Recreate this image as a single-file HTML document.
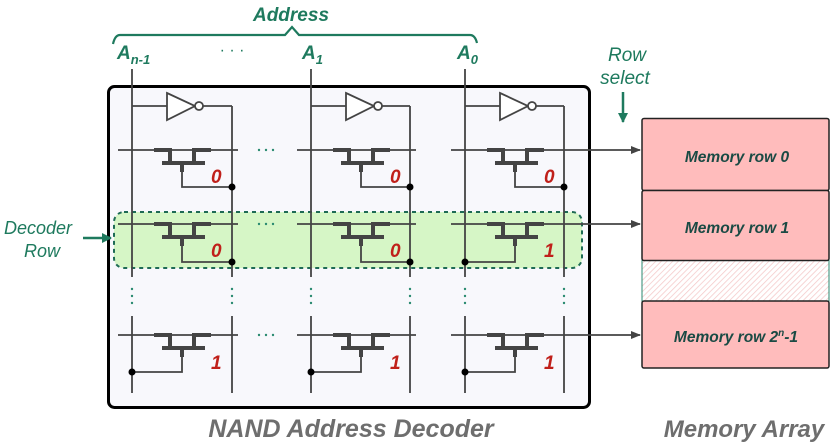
<!DOCTYPE html>
<html><head><meta charset="utf-8"><style>
html,body{margin:0;padding:0;background:#fff;}
svg{display:block;font-family:"Liberation Sans",sans-serif;}
</style></head><body>
<svg width="830" height="445" viewBox="0 0 830 445" xmlns="http://www.w3.org/2000/svg">
<defs>
<pattern id="hatch" width="4" height="4" patternUnits="userSpaceOnUse" patternTransform="rotate(45)">
<rect width="4" height="4" fill="#fff"/><line x1="0" y1="0" x2="0" y2="4" stroke="#f4c8c8" stroke-width="1.5"/>
</pattern>
<marker id="ah" markerWidth="10" markerHeight="8" refX="9" refY="4" orient="auto" markerUnits="userSpaceOnUse">
<path d="M0,0 L10,4 L0,8 z" fill="#444"/></marker>
<marker id="gh" markerWidth="10" markerHeight="10" refX="9" refY="5" orient="auto" markerUnits="userSpaceOnUse">
<path d="M0,0 L10,5 L0,10 z" fill="#1e7a5e"/></marker>
</defs>

<text x="291" y="21" font-size="19" font-weight="bold" font-style="italic" fill="#1e7a5e" text-anchor="middle">Address</text>
<path d="M113,44 Q115,35 120,35 L285,35 L292,27 L299,35 L470,35 Q475,35 477,43" fill="none" stroke="#1e7a5e" stroke-width="2.2"/>
<g font-size="19" font-weight="bold" font-style="italic" fill="#1e7a5e">
<text x="117" y="59">A<tspan font-size="13" dy="5">n-1</tspan></text>
<text x="302" y="59">A<tspan font-size="13" dy="5">1</tspan></text>
<text x="457" y="59">A<tspan font-size="13" dy="5">0</tspan></text>
</g>
<text x="232" y="55" font-size="16" fill="#1e7a5e" text-anchor="middle">· · ·</text>

<rect x="108.5" y="86.5" width="481" height="321" rx="6" fill="#f8f8fc" stroke="#000" stroke-width="3"/>

<rect x="114" y="212" width="468" height="56" rx="10" fill="#d2f5c0" fill-opacity="0.9" stroke="#1e6b55" stroke-width="2" stroke-dasharray="4,4"/>

<g stroke="#444" stroke-width="1.8" fill="none">
<line x1="132" y1="69" x2="132" y2="277"/><line x1="132" y1="316" x2="132" y2="393"/>
<line x1="232" y1="106" x2="232" y2="277"/><line x1="232" y1="316" x2="232" y2="393"/>
<line x1="311" y1="69" x2="311" y2="277"/><line x1="311" y1="316" x2="311" y2="393"/>
<line x1="410" y1="106" x2="410" y2="277"/><line x1="410" y1="316" x2="410" y2="393"/>
<line x1="465" y1="69" x2="465" y2="277"/><line x1="465" y1="316" x2="465" y2="393"/>
<line x1="564" y1="106" x2="564" y2="277"/><line x1="564" y1="316" x2="564" y2="393"/>
<path d="M132,106 H167 M203,106 H232"/>
<path d="M167,93 L195,106 L167,120 Z" fill="#fff"/><circle cx="199" cy="106" r="4" fill="#fff"/>
<path d="M311,106 H346 M382,106 H410"/>
<path d="M346,93 L374,106 L346,120 Z" fill="#fff"/><circle cx="378" cy="106" r="4" fill="#fff"/>
<path d="M465,106 H500 M536,106 H564"/>
<path d="M500,93 L528,106 L500,120 Z" fill="#fff"/><circle cx="532" cy="106" r="4" fill="#fff"/>
<path d="M118,150 H238 M297,150 H416 M451,150 H640" marker-end="url(#ah)"/>
<path d="M118,224 H238 M297,224 H416 M451,224 H640" marker-end="url(#ah)"/>
<path d="M118,335 H238 M297,335 H416 M451,335 H640" marker-end="url(#ah)"/>
<path d="M182,163 V187 H232"/><path d="M361,163 V187 H410"/><path d="M515,163 V187 H564"/>
<path d="M182,237 V262 H232"/><path d="M361,237 V262 H410"/><path d="M515,237 V262 H465"/>
<path d="M182,348 V372 H132"/><path d="M361,348 V372 H311"/><path d="M515,348 V372 H465"/>
</g>
<g stroke="#444" stroke-width="4" fill="none" stroke-linejoin="miter">
<path d="M154,150 H170 V163 M162,163 H205 M194,163 V150 H211 M182,163 V172"/>
<path d="M333,150 H349 V163 M341,163 H384 M373,163 V150 H390 M361,163 V172"/>
<path d="M487,150 H503 V163 M495,163 H538 M527,163 V150 H544 M515,163 V172"/>
<path d="M154,224 H170 V237 M162,237 H205 M194,237 V224 H211 M182,237 V246"/>
<path d="M333,224 H349 V237 M341,237 H384 M373,237 V224 H390 M361,237 V246"/>
<path d="M487,224 H503 V237 M495,237 H538 M527,237 V224 H544 M515,237 V246"/>
<path d="M154,335 H170 V348 M162,348 H205 M194,348 V335 H211 M182,348 V357"/>
<path d="M333,335 H349 V348 M341,348 H384 M373,348 V335 H390 M361,348 V357"/>
<path d="M487,335 H503 V348 M495,348 H538 M527,348 V335 H544 M515,348 V357"/>
</g>
<g fill="#000">
<circle cx="232" cy="187" r="3.5"/><circle cx="410" cy="187" r="3.5"/><circle cx="564" cy="187" r="3.5"/>
<circle cx="232" cy="262" r="3.5"/><circle cx="410" cy="262" r="3.5"/><circle cx="465" cy="262" r="3.5"/>
<circle cx="132" cy="372" r="3.5"/><circle cx="311" cy="372" r="3.5"/><circle cx="465" cy="372" r="3.5"/>
</g>
<g font-size="19" font-weight="bold" font-style="italic" fill="#c0201a">
<text x="211" y="183">0</text><text x="390" y="183">0</text><text x="544" y="183">0</text>
<text x="211" y="257">0</text><text x="390" y="257">0</text><text x="544" y="257">1</text>
<text x="211" y="369">1</text><text x="390" y="369">1</text><text x="544" y="369">1</text>
</g>
<g fill="#2a8a70">
<circle cx="259" cy="150" r="1.2"/><circle cx="266" cy="150" r="1.2"/><circle cx="273" cy="150" r="1.2"/>
<circle cx="259" cy="224" r="1.2"/><circle cx="266" cy="224" r="1.2"/><circle cx="273" cy="224" r="1.2"/>
<circle cx="259" cy="335" r="1.2"/><circle cx="266" cy="335" r="1.2"/><circle cx="273" cy="335" r="1.2"/>
<circle cx="132" cy="289" r="1.2"/><circle cx="132" cy="296" r="1.2"/><circle cx="132" cy="303" r="1.2"/>
<circle cx="232" cy="289" r="1.2"/><circle cx="232" cy="296" r="1.2"/><circle cx="232" cy="303" r="1.2"/>
<circle cx="311" cy="289" r="1.2"/><circle cx="311" cy="296" r="1.2"/><circle cx="311" cy="303" r="1.2"/>
<circle cx="410" cy="289" r="1.2"/><circle cx="410" cy="296" r="1.2"/><circle cx="410" cy="303" r="1.2"/>
<circle cx="465" cy="289" r="1.2"/><circle cx="465" cy="296" r="1.2"/><circle cx="465" cy="303" r="1.2"/>
<circle cx="564" cy="289" r="1.2"/><circle cx="564" cy="296" r="1.2"/><circle cx="564" cy="303" r="1.2"/>
<circle cx="735" cy="275" r="1"/><circle cx="735" cy="281" r="1"/><circle cx="735" cy="287" r="1"/>
</g>

<text x="4" y="234" font-size="18" font-style="italic" fill="#1e7a5e">Decoder</text>
<text x="24" y="257" font-size="18" font-style="italic" fill="#1e7a5e">Row</text>
<line x1="83" y1="238" x2="111" y2="238" stroke="#1e7a5e" stroke-width="2.5" marker-end="url(#gh)"/>

<text x="627" y="61" font-size="19" font-style="italic" fill="#1e7a5e" text-anchor="middle">Row</text>
<text x="625" y="84" font-size="19" font-style="italic" fill="#1e7a5e" text-anchor="middle">select</text>
<line x1="623" y1="92" x2="623" y2="122" stroke="#1e7a5e" stroke-width="2.5" marker-end="url(#gh)"/>

<rect x="642" y="260" width="187" height="41" fill="url(#hatch)" stroke="#2a8a70" stroke-width="1"/>
<g stroke="#222" stroke-width="1.5" fill="#ffbcbc">
<rect x="642" y="118.5" width="187" height="72" rx="2"/>
<rect x="642" y="190.5" width="187" height="70" rx="2"/>
<rect x="642" y="301" width="187" height="67" rx="2"/>
</g>
<g font-size="15.5" font-weight="bold" font-style="italic" fill="#1a4a44" text-anchor="middle">
<text x="737" y="162">Memory row 0</text>
<text x="737" y="233">Memory row 1</text>
<text x="736" y="342">Memory row 2<tspan font-size="10" dy="-6">n</tspan><tspan dy="6">-1</tspan></text>
</g>

<text x="351" y="437" font-size="25" font-weight="bold" font-style="italic" fill="#6e6e6e" text-anchor="middle">NAND Address Decoder</text>
<text x="744" y="437" font-size="24" font-weight="bold" font-style="italic" fill="#6e6e6e" text-anchor="middle">Memory Array</text>
</svg>
</body></html>
